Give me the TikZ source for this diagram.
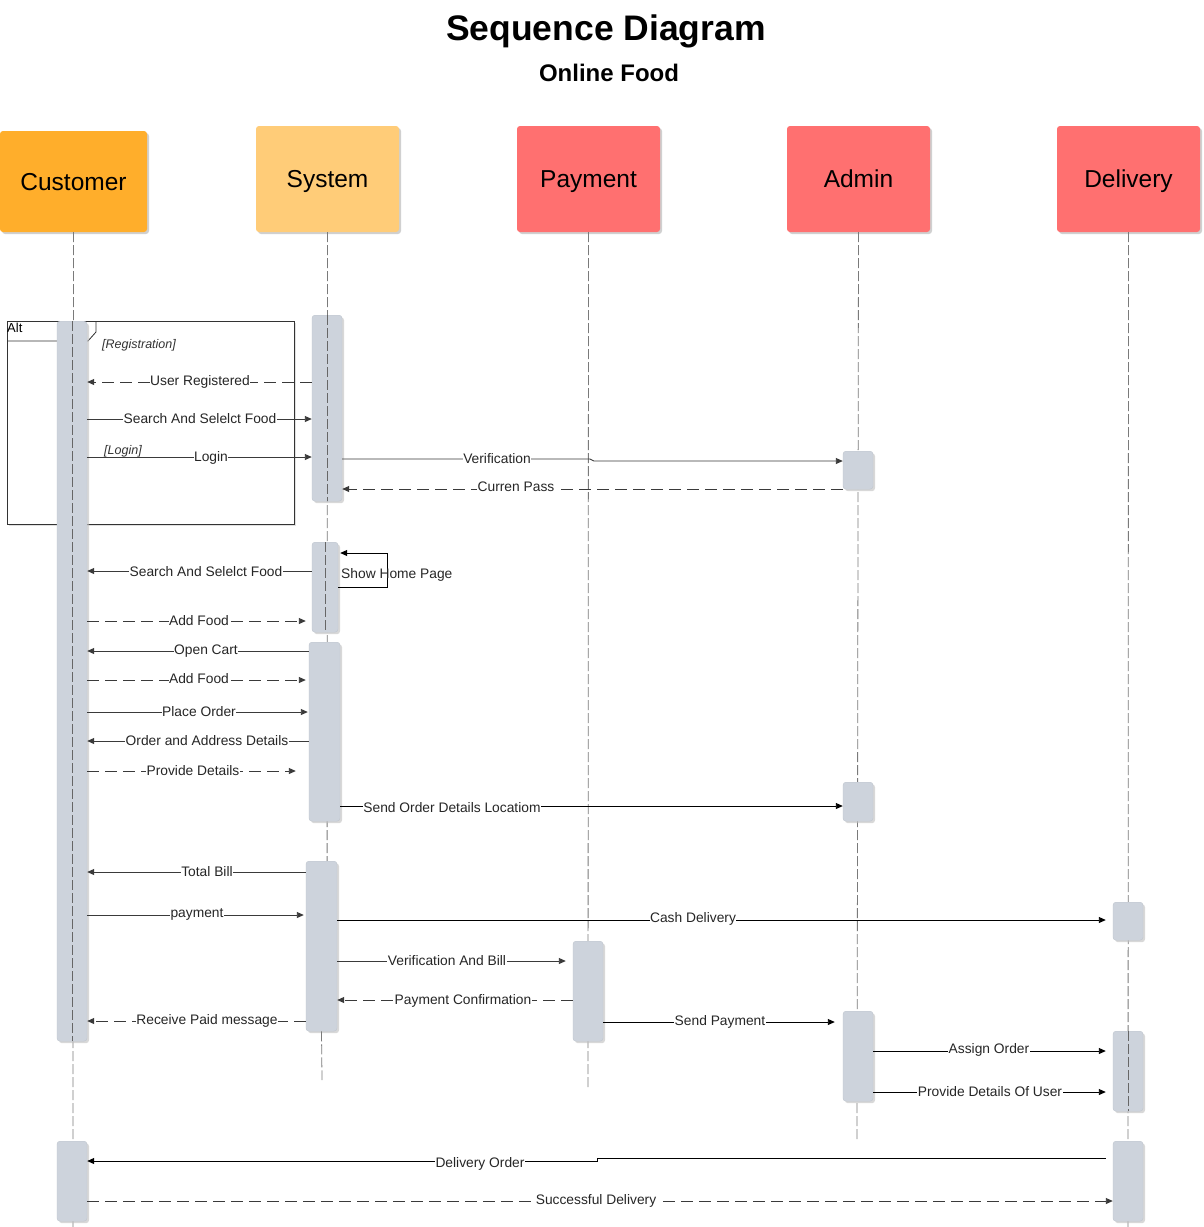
\documentclass[tikz,border=0pt]{standalone}
\usepackage{fontspec}
\setmainfont{Liberation Sans}
\usetikzlibrary{arrows.meta,shadows,calc}
\definecolor{actfill}{HTML}{CDD3DC}
\definecolor{actline}{HTML}{BFC5CE}
\definecolor{custc}{HTML}{FFAE2B}
\definecolor{sysc}{HTML}{FFCC78}
\definecolor{redc}{HTML}{FF7070}
\definecolor{msgc}{HTML}{3A3A3A}
\definecolor{lifec}{HTML}{7A7A7A}
\tikzset{
  head/.style={rounded corners=3pt, minimum width=143pt, minimum height=106pt, inner sep=0pt,
    font=\fontsize{24.5}{28}\selectfont, text=black, text depth=0pt,
    drop shadow={shadow xshift=2pt, shadow yshift=-2pt, fill=black!30, opacity=0.6}},
  act/.style={draw=actline, fill=actfill, rounded corners=3pt, minimum width=30pt, inner sep=0pt, anchor=north,
    drop shadow={shadow xshift=2pt, shadow yshift=-2pt, fill=black!25, opacity=0.6}},
  life/.style={draw=lifec, line width=0.8pt, dash pattern=on 10pt off 3pt},
  lifeover/.style={life, draw=black!60, line width=0.9pt},
  msg/.style={draw=msgc, line width=0.9pt, -{Triangle[length=7pt,width=6pt]}},
  ret/.style={msg, dash pattern=on 12pt off 6pt},
  lbl/.style={fill=white, inner sep=0.5pt, font=\fontsize{13.8}{15}\selectfont, text=black!85},
  guard/.style={inner sep=0pt, font=\fontsize{12.5}{14}\itshape, text=black!80, anchor=west},
}
\begin{document}
\begin{tikzpicture}[x=1pt,y=-1pt]
\useasboundingbox[fill=white] (0,0) rectangle (1204,1227);

% titles
\node[font=\fontsize{35.5}{40}\bfseries\selectfont] (title) at (606,31) {Sequence Diagram};
\node[font=\fontsize{24}{28}\bfseries\selectfont] (subtitle) at (609,73) {Online Food};

% heads
\node[head, fill=custc, minimum width=147pt, minimum height=101pt] (cust) at (73.5,181.5) {Customer};
\node[head, fill=sysc] (sys) at (327.5,179) {System};
\node[head, fill=redc] (pay) at (588.5,179) {Payment};
\node[head, fill=redc] (adm) at (858.5,179) {Admin};
\node[head, fill=redc] (del) at (1128.5,179) {Delivery};

% lifeline ends
\coordinate (custEnd) at (73,1227);
\coordinate (sysMid) at (327,1031);
\coordinate (sysEnd) at (322,1080);
\coordinate (payEnd) at (588,1090);
\coordinate (admEnd) at (857,1140);
\coordinate (delEnd) at (1128,1227);

\draw[life] (cust.south) -- (custEnd);
\draw[life] (sys.south) -- (sysMid);
\draw[life] (pay.south) -- (payEnd);
\draw[life] (adm.south) -- (admEnd);
\draw[life] (del.south) -- (delEnd);

% alt frame
\node[draw=black!80, fill=white, line width=0.8pt, minimum width=287pt, minimum height=203pt, inner sep=0pt, anchor=north west,
  drop shadow={shadow xshift=1.5pt, shadow yshift=-1.5pt, fill=black!20, opacity=0.6}] (alt) at (7,321) {};
\coordinate (tabA) at (7,341);
\coordinate (tabB) at (88,341);
\coordinate (tabC) at (96,332);
\coordinate (tabD) at (96,321);
\draw[black!80, line width=0.8pt] (tabA) -- (tabB) -- (tabC) -- (tabD);
\node[inner sep=0pt, anchor=west, font=\fontsize{13}{14}\selectfont] (altlbl) at (7,328) {Alt};

% activation bars
\node[act, minimum height=720pt] (c1) at (72,321) {};
\node[act, minimum height=80pt] (c2) at (72,1141) {};
\node[act, minimum height=186pt] (s1) at (327,315) {};
\node[act, minimum height=90pt, minimum width=26pt] (s2) at (325,542) {};
\node[act, minimum height=179pt, minimum width=31pt] (s3) at (324.5,642) {};
\node[act, minimum height=170pt, minimum width=31pt] (s4) at (321.5,861) {};
\node[act, minimum height=100pt] (p1) at (588,941) {};
\node[act, minimum height=38pt] (a1) at (858,451) {};
\node[act, minimum height=39pt] (a2) at (858,782) {};
\node[act, minimum height=90pt] (a3) at (858,1011) {};
\node[act, minimum height=38pt] (d1) at (1128,902) {};
\node[act, minimum height=80pt] (d2) at (1128,1031) {};
\node[act, minimum height=80pt] (d3) at (1128,1141) {};

% lifeline dashes visible over some bars (as in reference)
\draw[lifeover] (c1.north) -- (c1.south);
\draw[lifeover] (s1.north) -- (s1.south);
\draw[lifeover] (s2.north) -- (s2.south);
\draw[lifeover] (d2.north) -- (d2.south);
\draw[life] (s4.south) -- (sysEnd);

% guards
\node[guard] (g1) at (102,345) {[Registration]};
\node[guard] (g2) at (104,451) {[Login]};

% messages
\draw[ret] (s1.west |- 0,382) -- (c1.east |- 0,382);
\node[lbl] (m1) at (200,382) {User Registered};
\draw[msg] (c1.east |- 0,419) -- (s1.west |- 0,419);
\node[lbl] (m2) at (200,419) {Search And Selelct Food};
\draw[msg] (c1.east |- 0,457) -- (s1.west |- 0,457);
\node[lbl] (m3) at (211,458) {Login};
\coordinate (v1) at (590,459);
\coordinate (v2) at (594,461);
\draw[msg] (s1.east |- 0,459) -- (v1) -- (v2) -- (a1.west |- 0,461);
\node[lbl] (m4) at (497,459) {Verification};
\draw[ret] (a1.west |- 0,489) -- (s1.east |- 0,489);
\node[lbl] (m5) at (516,487) {Curren Pass};

% self message
\coordinate (h1) at (387,587);
\coordinate (h2) at (387,553);
\draw[draw=black, line width=0.9pt, -{Triangle[length=7pt,width=6pt]}] (s2.east |- 0,587) -- (h1) -- (h2) -- ([xshift=2pt]s2.east |- 0,553);
\node[inner sep=0pt, anchor=west, font=\fontsize{13.8}{15}\selectfont, text=black!85] (m6) at (341,575) {Show Home Page};

\draw[msg] (s2.west |- 0,571) -- (c1.east |- 0,571);
\node[lbl] (m7) at (206,572) {Search And Selelct Food};
\draw[ret, shorten >=6pt] (c1.east |- 0,621) -- (s2.west |- 0,621);
\node[lbl] (m8) at (199,621) {Add Food};
\draw[msg] (s3.west |- 0,651) -- (c1.east |- 0,651);
\node[lbl] (m9) at (206,651) {Open Cart};
\draw[ret, shorten >=3pt] (c1.east |- 0,680) -- (s3.west |- 0,680);
\node[lbl] (m10) at (199,679) {Add Food};
\draw[msg, shorten >=1pt] (c1.east |- 0,712) -- (s3.west |- 0,712);
\node[lbl] (m11) at (199,712) {Place Order};
\draw[msg] (s3.west |- 0,741) -- (c1.east |- 0,741);
\node[lbl] (m12) at (207,741) {Order and Address Details};
\draw[ret, shorten >=13pt] (c1.east |- 0,771) -- (s3.west |- 0,771);
\node[lbl] (m13) at (193,771) {Provide Details};
\draw[msg, draw=black] (s3.east |- 0,806) -- (a2.west |- 0,806);
\node[lbl] (m14) at (452,808) {Send Order Details Locatiom};

\draw[msg] (s4.west |- 0,872) -- (c1.east |- 0,872);
\node[lbl] (m15) at (207,872) {Total Bill};
\draw[msg, shorten >=2pt] (c1.east |- 0,915) -- (s4.west |- 0,915);
\node[lbl] (m16) at (197,914) {payment};
\draw[msg, draw=black, shorten >=7pt] (s4.east |- 0,920) -- (d1.west |- 0,920);
\node[lbl] (m17) at (693,919) {Cash Delivery};
\draw[msg, shorten >=7pt] (s4.east |- 0,961) -- (p1.west |- 0,961);
\node[lbl] (m18) at (447,961) {Verification And Bill};
\draw[ret] (p1.west |- 0,1000) -- (s4.east |- 0,1000);
\node[lbl] (m19) at (463,1001) {Payment Confirmation};
\draw[ret] (s4.west |- 0,1021) -- (c1.east |- 0,1021);
\node[lbl] (m20) at (207,1021) {Receive Paid message};
\draw[msg, draw=black, shorten >=8pt] (p1.east |- 0,1022) -- (a3.west |- 0,1022);
\node[lbl] (m21) at (720,1022) {Send Payment};
\draw[msg, draw=black, shorten >=7pt] (a3.east |- 0,1051) -- (d2.west |- 0,1051);
\node[lbl] (m22) at (989,1050) {Assign Order};
\draw[msg, draw=black, shorten >=7pt] (a3.east |- 0,1092) -- (d2.west |- 0,1092);
\node[lbl] (m23) at (990,1092) {Provide Details Of User};

\coordinate (o1) at (597,1158);
\coordinate (o2) at (597,1161);
\draw[msg, draw=black] ([xshift=-7pt]d3.west |- 0,1158) -- (o1) -- (o2) -- (c2.east |- 0,1161);
\node[lbl] (m24) at (480,1164) {Delivery Order};
\draw[ret] (c2.east |- 0,1201) -- (d3.west |- 0,1201);
\node[lbl] (m25) at (596,1201) {Successful Delivery};
\end{tikzpicture}
\end{document}
